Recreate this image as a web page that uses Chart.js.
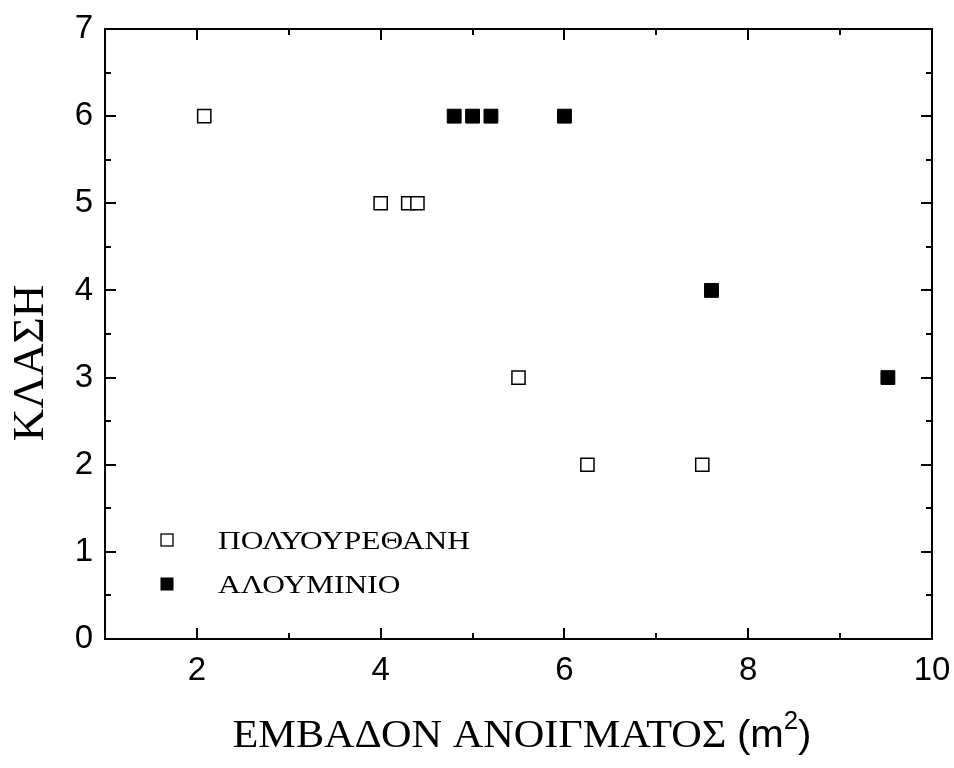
<!DOCTYPE html>
<html>
<head>
<meta charset="utf-8">
<script src="https://cdn.jsdelivr.net/npm/chart.js@4.4.1/dist/chart.umd.min.js"></script>
<style>
html,body{margin:0;padding:0;background:#fff;}
#wrap{width:954px;height:768px;}
</style>
</head>
<body>
<div id="wrap"><canvas id="c" width="954" height="768"></canvas></div>
<script>
// ---- data ----
const seriesNames = ['ΠΟΛΥΟΥΡΕΘΑΝΗ', 'ΑΛΟΥΜΙΝΙΟ'];
const polyX = [2.08, 4.0, 4.3, 4.4, 5.5, 6.25, 7.5];
const polyY = [6, 5, 5, 5, 3, 2, 2];
const aluX = [4.8, 5.0, 5.2, 6.0, 7.6, 9.52];
const aluY = [6, 6, 6, 6, 4, 3];
const xTickValues = [2, 4, 6, 8, 10];
const xMinorValues = [1, 3, 5, 7, 9];
const yTickValues = [0, 1, 2, 3, 4, 5, 6, 7];
const yMinorValues = [0.5, 1.5, 2.5, 3.5, 4.5, 5.5, 6.5];
const xTitle = 'ΕΜΒΑΔΟΝ ΑΝΟΙΓΜΑΤΟΣ ';
const xUnit = ['(m', '2', ')'];
const yTitle = 'ΚΛΑΣΗ';

const toPts = (xs, ys) => xs.map((x, i) => ({x: x, y: ys[i]}));

const SANS = '"Liberation Sans", Arial, sans-serif';
const SERIF = '"Liberation Serif", "Times New Roman", serif';

const noPad = s => { s.paddingLeft = 0; s.paddingRight = 0; s.paddingTop = 0; s.paddingBottom = 0; };

const framePlugin = {
  id: 'frame',
  afterDraw(chart) {
    const ctx = chart.ctx;
    const a = chart.chartArea;
    const xs = chart.scales.x, ys = chart.scales.y;
    ctx.save();
    ctx.strokeStyle = '#000';
    ctx.lineWidth = 2;
    ctx.lineCap = 'square';
    ctx.strokeRect(a.left, a.top, a.right - a.left, a.bottom - a.top);
    ctx.lineCap = 'butt';
    const MAJ = 11, MIN = 6;
    ctx.beginPath();
    xTickValues.forEach(v => {
      const p = Math.round(xs.getPixelForValue(v));
      ctx.moveTo(p, a.bottom); ctx.lineTo(p, a.bottom - MAJ);
      ctx.moveTo(p, a.top); ctx.lineTo(p, a.top + MAJ);
    });
    xMinorValues.forEach(v => {
      const p = Math.round(xs.getPixelForValue(v));
      ctx.moveTo(p, a.bottom); ctx.lineTo(p, a.bottom - MIN);
      ctx.moveTo(p, a.top); ctx.lineTo(p, a.top + MIN);
    });
    yTickValues.forEach(v => {
      const p = Math.round(ys.getPixelForValue(v));
      ctx.moveTo(a.left, p); ctx.lineTo(a.left + MAJ, p);
      ctx.moveTo(a.right, p); ctx.lineTo(a.right - MAJ, p);
    });
    yMinorValues.forEach(v => {
      const p = Math.round(ys.getPixelForValue(v));
      ctx.moveTo(a.left, p); ctx.lineTo(a.left + MIN, p);
      ctx.moveTo(a.right, p); ctx.lineTo(a.right - MIN, p);
    });
    ctx.stroke();

    // legend
    const lx = 167, ly = [540, 584], s = 12;
    ctx.lineWidth = 1.3;
    ctx.fillStyle = '#000';
    ctx.strokeRect(lx - s/2, ly[0] - s/2, s, s);
    ctx.fillRect(lx - s/2 - 0.5, ly[1] - s/2 - 0.5, s + 1, s + 1);
    ctx.font = '26px ' + SERIF;
    ctx.textBaseline = 'alphabetic';
    ctx.textAlign = 'left';
    [0, 1].forEach(i => {
      ctx.save();
      ctx.translate(218, ly[i] + 8.5);
      ctx.scale(1.21, 1);
      ctx.fillText(seriesNames[i], 0, 0);
      ctx.restore();
    });

    // x title
    const base = 747;
    ctx.font = '41px ' + SERIF;
    const w1 = ctx.measureText(xTitle).width;
    ctx.font = '39px ' + SANS;
    const w2 = ctx.measureText(xUnit[0]).width;
    const w4 = ctx.measureText(xUnit[2]).width;
    ctx.font = '25px ' + SANS;
    const w3 = ctx.measureText(xUnit[1]).width;
    const total = w1 + w2 + w3 + w4;
    const sx = 579 / total;
    ctx.save();
    ctx.translate(522 - 579 / 2, base);
    ctx.scale(sx, 1);
    let x0 = 0;
    ctx.font = '41px ' + SERIF;
    ctx.fillText(xTitle, x0, 0); x0 += w1;
    ctx.font = '39px ' + SANS;
    ctx.fillText(xUnit[0], x0, 0); x0 += w2;
    ctx.font = '25px ' + SANS;
    ctx.fillText(xUnit[1], x0, -18); x0 += w3;
    ctx.font = '39px ' + SANS;
    ctx.fillText(xUnit[2], x0, 0);
    ctx.restore();

    // y title
    ctx.save();
    ctx.translate(43, 363);
    ctx.rotate(-Math.PI / 2);
    ctx.font = '45px ' + SERIF;
    ctx.textAlign = 'center';
    ctx.fillText(yTitle, 0, 0);
    ctx.restore();
    ctx.restore();
  }
};

new Chart(document.getElementById('c'), {
  type: 'scatter',
  data: {
    datasets: [
      {
        label: seriesNames[0],
        data: toPts(polyX, polyY),
        pointStyle: 'rect',
        pointRadius: 9.3,
        pointHoverRadius: 9.3,
        pointBackgroundColor: '#fff',
        pointBorderColor: '#000',
        pointBorderWidth: 1.5
      },
      {
        label: seriesNames[1],
        data: toPts(aluX, aluY),
        pointStyle: 'rect',
        pointRadius: 9.8,
        pointHoverRadius: 9.8,
        pointBackgroundColor: '#000',
        pointBorderColor: '#000',
        pointBorderWidth: 1
      }
    ]
  },
  options: {
    responsive: false,
    animation: false,
    events: [],
    layout: {padding: {top: 29, right: 22, left: 0, bottom: 0}},
    plugins: {legend: {display: false}, tooltip: {enabled: false}},
    scales: {
      x: {
        type: 'linear',
        min: 1, max: 10,
        grid: {display: false, drawTicks: false},
        border: {display: false},
        afterBuildTicks: s => { s.ticks = xTickValues.map(v => ({value: v})); },
        afterFit: s => { s.height = 129; noPad(s); },
        ticks: {color: '#000', font: {family: SANS, size: 33}, padding: 12, maxRotation: 0, autoSkip: false}
      },
      y: {
        type: 'linear',
        min: 0, max: 7,
        grid: {display: false, drawTicks: false},
        border: {display: false},
        afterBuildTicks: s => { s.ticks = yTickValues.map(v => ({value: v})); },
        afterFit: s => { s.width = 105; noPad(s); },
        ticks: {color: '#000', font: {family: SANS, size: 33}, padding: 12, autoSkip: false}
      }
    }
  },
  plugins: [framePlugin]
});
</script>
</body>
</html>
